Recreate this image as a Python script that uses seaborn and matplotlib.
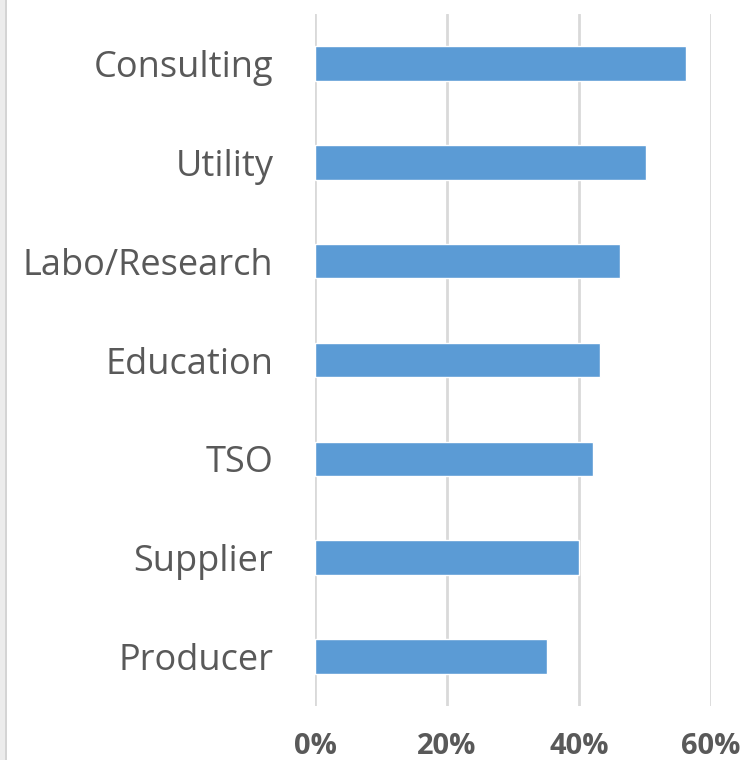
import matplotlib
matplotlib.use("Agg")
import matplotlib.pyplot as plt
import seaborn as sns
import pandas as pd
from matplotlib.patches import Rectangle
from matplotlib.ticker import PercentFormatter

# Chart data
categories = ["Consulting", "Utility", "Labo/Research", "Education", "TSO", "Supplier", "Producer"]
shares = [0.562, 0.502, 0.462, 0.432, 0.421, 0.400, 0.351]
x_ticks = [0.0, 0.2, 0.4, 0.6]

BAR_COLOR = "#5b9bd5"
TEXT_COLOR = "#595959"
GRID_COLOR = "#d9d9d9"

sns.set_theme(style="white")
plt.rcParams["font.family"] = ["Open Sans", "DejaVu Sans"]

df = pd.DataFrame({"category": categories, "share": shares})

fig = plt.figure(figsize=(7.47, 7.6), dpi=100)
ax = fig.add_axes([315 / 747, 1 - 706 / 760, (711 - 315) / 747, (706 - 14) / 760])

ax.grid(True, axis="x", color=GRID_COLOR, linewidth=2)
ax.set_axisbelow(True)

sns.barplot(data=df, x="share", y="category", order=categories, orient="h",
            color=BAR_COLOR, saturation=1, width=0.35, ax=ax)

ax.set_xlim(0, 0.6)
ax.set_ylim(6.5, -0.5)
ax.set_xticks(x_ticks)
ax.xaxis.set_major_formatter(PercentFormatter(1.0, decimals=0))
ax.set_xlabel("")
ax.set_ylabel("")

for side in ["top", "right", "bottom", "left"]:
    ax.spines[side].set_visible(False)

ax.tick_params(axis="y", length=0, pad=30, labelsize=26, labelcolor=TEXT_COLOR)
ax.tick_params(axis="x", length=0, pad=19, labelsize=21, labelcolor=TEXT_COLOR)
for lbl in ax.get_xticklabels():
    lbl.set_fontweight("bold")

# light gray border strip on the left edge
fig.patches.append(Rectangle((0, 0), 5 / 747, 1, transform=fig.transFigure,
                             facecolor="#ececec", edgecolor="none"))
fig.patches.append(Rectangle((5 / 747, 0), 1.5 / 747, 1, transform=fig.transFigure,
                             facecolor="#d4d4d4", edgecolor="none"))

fig.savefig("out.png", dpi=100, facecolor="white")
